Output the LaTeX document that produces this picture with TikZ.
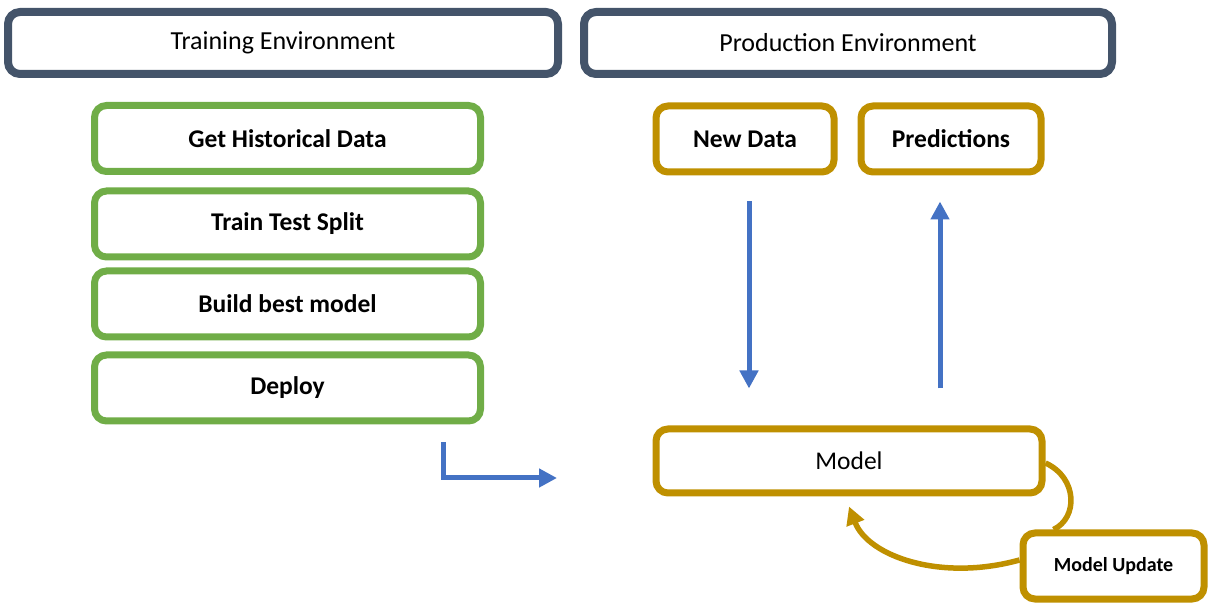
\documentclass[tikz,border=0pt]{standalone}
\usepackage{fontspec}
\setmainfont{Carlito}
\usetikzlibrary{arrows.meta}
\definecolor{slate}{HTML}{44546A}
\definecolor{leaf}{HTML}{70AD47}
\definecolor{gold}{HTML}{BF9000}
\definecolor{flowblue}{HTML}{4472C4}
\begin{document}
\begin{tikzpicture}[x=1pt,y=-1pt,
    envbox/.style={draw=slate,line width=8pt,rounded corners=12pt,minimum height=62pt,
      font=\fontsize{26}{30}\selectfont},
    stepbox/.style={draw=leaf,line width=7pt,rounded corners=12pt,minimum width=386pt,
      minimum height=66pt,font=\fontsize{25.5}{30}\selectfont\bfseries},
    prodbox/.style={draw=gold,line width=7pt,rounded corners=12pt,minimum height=66pt,
      font=\fontsize{25.5}{30}\selectfont\bfseries},
    flow/.style={draw=flowblue,line width=5pt,-{Triangle[length=18pt,width=18pt]}},
    loop/.style={draw=gold,line width=5.5pt}]
  \useasboundingbox (0,0) rectangle (1211,609);
  % environments
  \node[envbox,minimum width=550pt] (train) at (283,43) {Training Environment};
  \node[envbox,minimum width=528pt] (prod) at (848,43) {Production Environment};
  % training steps
  \node[stepbox] (hist) at (287.5,138.5) {Get Historical Data};
  \node[stepbox] (split) at (287.5,224) {Train Test Split};
  \node[stepbox] (build) at (287.5,304) {Build best model};
  \node[stepbox] (deploy) at (287.5,388) {Deploy};
  % production
  \node[prodbox,minimum width=178pt] (newdata) at (745,139) {New Data};
  \node[prodbox,minimum width=180pt] (pred) at (951,139) {Predictions};
  \node[prodbox,minimum width=386pt,minimum height=64pt,font=\fontsize{25.5}{30}\selectfont]
    (model) at (849,461) {Model};
  \node[prodbox,minimum width=181pt,font=\fontsize{20}{24}\selectfont\bfseries]
    (update) at (1113.5,566) {Model Update};
  % arrows
  \coordinate (handoff) at (557,478);
  \draw[flow] ([xshift=155.5pt,yshift=-18pt]deploy.south) |- (handoff);
  \draw[flow,shorten <=26pt,shorten >=37pt] ([xshift=4pt]newdata.south) -- ([xshift=4pt]newdata.south |- model.north);
  \draw[flow,shorten <=37pt,shorten >=26pt] ([xshift=-11pt]pred.south |- model.north) -- ([xshift=-11pt]pred.south);
  \draw[loop] ([yshift=-2pt]model.east) .. controls (1078,478) and (1078,518) .. ([xshift=-60pt]update.north);
  \draw[loop,-{Triangle[length=18pt,width=18pt]}] ([yshift=6pt]update.west)
    .. controls (940,582) and (868,556) .. ([yshift=-10pt]model.south);
\end{tikzpicture}
\end{document}
